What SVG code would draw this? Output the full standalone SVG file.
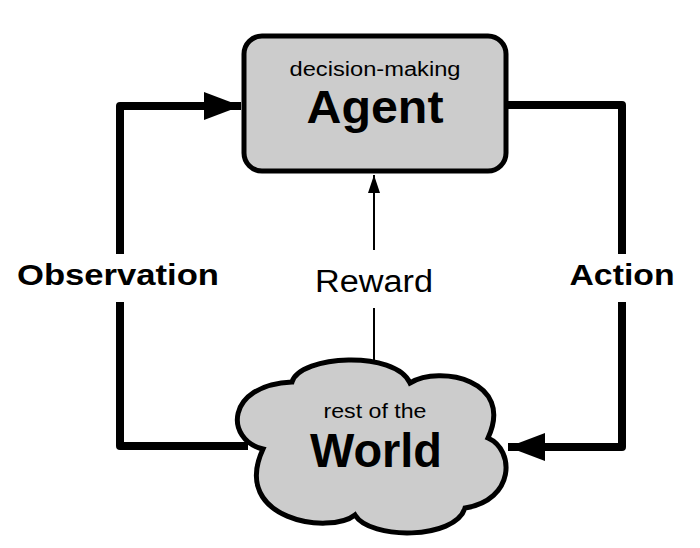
<svg xmlns="http://www.w3.org/2000/svg" width="700" height="548" viewBox="0 0 700 548">
<style>
.t{font-family:"Liberation Sans",Arial,Helvetica,sans-serif;fill:#000;text-anchor:middle}
.b{font-weight:bold}
.node{fill:#cccccc;stroke:#000;stroke-width:5}
.thick{fill:none;stroke:#000;stroke-width:8;stroke-linejoin:round}
.thin{fill:none;stroke:#000;stroke-width:2}
</style>
<defs>
<marker id="big" markerUnits="userSpaceOnUse" markerWidth="40" markerHeight="30" refX="37" refY="14" orient="auto">
<path d="M0 0 L37 14 L0 28 Z" fill="#000"/>
</marker>
<marker id="small" markerUnits="userSpaceOnUse" markerWidth="20" markerHeight="20" refX="18" refY="6" orient="auto">
<path d="M0 0 L18 6 L0 12 Z" fill="#000"/>
</marker>
</defs>
<rect width="700" height="548" fill="#fff"/>
<g id="connectors">
<path class="thick" d="M120 254 V106 H241" marker-end="url(#big)"/>
<path class="thick" d="M120 302 V446 H248"/>
<path class="thick" d="M505 105 H622 V254"/>
<path class="thick" d="M622 302 V447 H508" marker-end="url(#big)"/>
<path class="thin" d="M374 250 V175" marker-end="url(#small)"/>
<path class="thin" d="M374 308 V364"/>
</g>
<g id="agent">
<rect class="node" x="244" y="36" width="262" height="135" rx="18"/>
<text class="t" x="375" y="76" font-size="20" textLength="171" lengthAdjust="spacingAndGlyphs">decision-making</text>
<text class="t b" x="375" y="123" font-size="46" textLength="137" lengthAdjust="spacingAndGlyphs">Agent</text>
</g>
<g id="world">
<path class="node" d="M263 449 C225 440 225 385 292 382 C300 355 395 350 410 383 C440 365 515 380 488 438 C515 450 515 500 465 508 C455 540 370 540 355 515 C330 535 230 520 263 449 Z"/>
<text class="t" x="375" y="418" font-size="20" textLength="103" lengthAdjust="spacingAndGlyphs">rest of the</text>
<text class="t b" x="376" y="467" font-size="48" textLength="132" lengthAdjust="spacingAndGlyphs">World</text>
</g>
<g id="labels">
<text class="t b" x="118" y="285" font-size="30" textLength="202" lengthAdjust="spacingAndGlyphs">Observation</text>
<text class="t b" x="622" y="285" font-size="30" textLength="105" lengthAdjust="spacingAndGlyphs">Action</text>
<text class="t" x="374" y="292" font-size="31" textLength="118" lengthAdjust="spacingAndGlyphs">Reward</text>
</g>
</svg>
